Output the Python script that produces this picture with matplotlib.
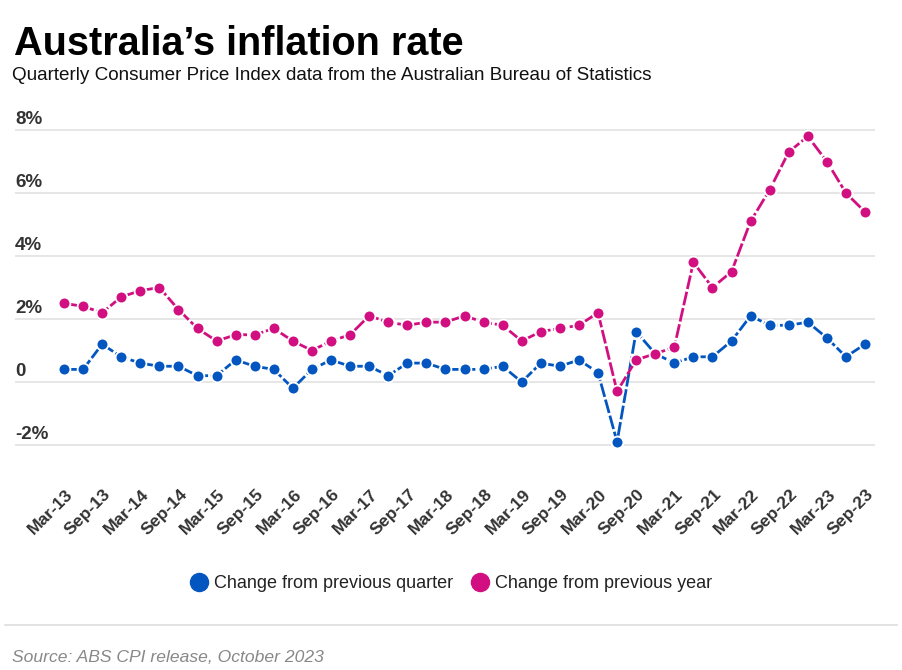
import matplotlib
matplotlib.use("Agg")
import matplotlib.pyplot as plt
from matplotlib.lines import Line2D
import matplotlib.transforms as mtransforms

quarters = ["Mar-13","Jun-13","Sep-13","Dec-13","Mar-14","Jun-14","Sep-14","Dec-14",
            "Mar-15","Jun-15","Sep-15","Dec-15","Mar-16","Jun-16","Sep-16","Dec-16",
            "Mar-17","Jun-17","Sep-17","Dec-17","Mar-18","Jun-18","Sep-18","Dec-18",
            "Mar-19","Jun-19","Sep-19","Dec-19","Mar-20","Jun-20","Sep-20","Dec-20",
            "Mar-21","Jun-21","Sep-21","Dec-21","Mar-22","Jun-22","Sep-22","Dec-22",
            "Mar-23","Jun-23","Sep-23"]
quarterly = [0.4,0.4,1.2,0.8,0.6,0.5,0.5,0.2,0.2,0.7,0.5,0.4,-0.2,0.4,0.7,0.5,
             0.5,0.2,0.6,0.6,0.4,0.4,0.4,0.5,0.0,0.6,0.5,0.7,0.3,-1.9,1.6,0.9,
             0.6,0.8,0.8,1.3,2.1,1.8,1.8,1.9,1.4,0.8,1.2]
annual = [2.5,2.4,2.2,2.7,2.9,3.0,2.3,1.7,1.3,1.5,1.5,1.7,1.3,1.0,1.3,1.5,
          2.1,1.9,1.8,1.9,1.9,2.1,1.9,1.8,1.3,1.6,1.7,1.8,2.2,-0.3,0.7,0.9,
          1.1,3.8,3.0,3.5,5.1,6.1,7.3,7.8,7.0,6.0,5.4]
ytick_vals = [-2, 0, 2, 4, 6, 8]
ytick_labels = ["-2%", "0", "2%", "4%", "6%", "8%"]
series_names = ["Change from previous quarter", "Change from previous year"]

BLUE = "#0356c0"
PINK = "#d20f80"
W, H = 902, 670
plt.rcParams["font.family"] = ["Liberation Sans", "DejaVu Sans"]

fig = plt.figure(figsize=(W / 100, H / 100), dpi=100)
ax_l, ax_r, ax_t, ax_b = 15, 875, 120, 455
ax = fig.add_axes([ax_l / W, 1 - ax_b / H, (ax_r - ax_l) / W, (ax_b - ax_t) / H])
px_per_x = (865 - 64) / 42
ax.set_xlim(-(64 - ax_l) / px_per_x, 42 + (ax_r - 865) / px_per_x)
px_per_y = (445 - 130) / 10
ax.set_ylim(-2 - 10 / px_per_y, 8 + 10 / px_per_y)
for s in ax.spines.values():
    s.set_visible(False)
ax.set_xticks([])
ax.set_yticks([])

for v in ytick_vals:
    ax.axhline(v, color="#e6e6e6", lw=1.4, zorder=0)

ytrans = mtransforms.blended_transform_factory(ax.transAxes, ax.transData)
yoff = mtransforms.ScaledTranslation(0, 2 / 100, fig.dpi_scale_trans)
for v, lab in zip(ytick_vals, ytick_labels):
    ax.text(0, v, lab, transform=ytrans + yoff, ha="left", va="bottom",
            fontsize=13.5, fontweight="bold", color="#333333")

xs = list(range(len(quarters)))
style = dict(lw=2.0, marker="o", markersize=8.5, markeredgecolor="white",
             markeredgewidth=1.3, clip_on=False, linestyle=(0, (5, 1)))
ax.plot(xs, quarterly, color=BLUE, zorder=3, **style)
ax.plot(xs, annual, color=PINK, zorder=4, **style)

xtrans = mtransforms.blended_transform_factory(ax.transData, fig.transFigure)
xoff = mtransforms.ScaledTranslation(1 / 100, 0, fig.dpi_scale_trans)
for i, q in enumerate(quarters):
    if i % 2 == 0:
        ax.text(i, 1 - 487 / H, q, transform=xtrans + xoff, rotation=45,
                rotation_mode="anchor", ha="right", va="top",
                fontsize=12.6, fontweight="bold", color="#333333")

fig.text(14 / W, 1 - 55 / H, "Australia\u2019s inflation rate", fontsize=28.5,
         fontweight="bold", color="black", ha="left", va="baseline")
fig.text(12 / W, 1 - 80 / H,
         "Quarterly Consumer Price Index data from the Australian Bureau of Statistics",
         fontsize=13.55, color="#111111", ha="left", va="baseline")

handles = [Line2D([], [], ls="none", marker="o", markersize=13, color=BLUE, markeredgecolor=BLUE),
           Line2D([], [], ls="none", marker="o", markersize=13, color=PINK, markeredgecolor=PINK)]
leg = fig.legend(handles, series_names, loc="center", bbox_to_anchor=(0.5, 1 - 584 / H),
                 ncol=2, frameon=False, fontsize=13, handletextpad=0.3, columnspacing=1.0,
                 handlelength=1.0)
for t in leg.get_texts():
    t.set_color("#222222")

fig.add_artist(Line2D([5 / W, 897 / W], [1 - 625 / H, 1 - 625 / H], color="#dddddd", lw=1.2))
fig.text(12 / W, 1 - 662 / H, "Source: ABS CPI release, October 2023", fontsize=12.6,
         style="italic", color="#888888", ha="left", va="baseline")

fig.savefig("out.png", dpi=100, facecolor="white")
